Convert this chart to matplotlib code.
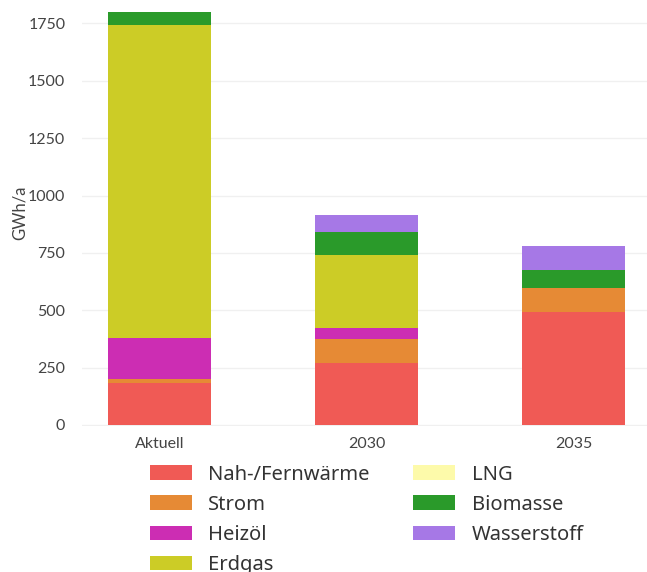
import matplotlib
matplotlib.use("Agg")
import matplotlib.pyplot as plt
from matplotlib.patches import Patch
import numpy as np

categories = ["Aktuell", "2030", "2035"]
series_names = ["Nah-/Fernwärme", "Strom", "Heizöl", "Erdgas", "LNG", "Biomasse", "Wasserstoff"]
nah_fernwaerme = [182, 271, 491]
strom = [17, 104, 107]
heizoel = [181, 49, 0]
erdgas = [1363, 317, 0]
lng = [0, 0, 0]
biomasse = [55, 101, 77]
wasserstoff = [0, 73, 106]
colors = ["#F05A55", "#E68A35", "#CC2DB3", "#CCCC26", "#FDFAAA", "#2A9A2A", "#A678E6"]
y_ticks = [0, 250, 500, 750, 1000, 1250, 1500, 1750]

series = [nah_fernwaerme, strom, heizoel, erdgas, lng, biomasse, wasserstoff]

plt.rcParams["font.family"] = ["Lato", "DejaVu Sans"]

fig = plt.figure(figsize=(6.47, 5.72), dpi=100)
ax = fig.add_axes([82 / 647, 146 / 572, 565 / 647, 426 / 572])

x = np.arange(len(categories))
bottom = np.zeros(len(categories))
for name, vals, col in zip(series_names, series, colors):
    vals = np.array(vals, dtype=float)
    ax.bar(x, vals, width=0.5, bottom=bottom, color=col, edgecolor="none", zorder=2)
    bottom += vals

ax.set_xlim(-0.374, 2.355)
ax.set_ylim(-4.4, 1852)
ax.set_xticks(x)
ax.set_xticklabels(categories)
ax.set_yticks(y_ticks)
ax.tick_params(axis="both", length=0, labelsize=11.5, colors="#444444")
ax.tick_params(axis="y", pad=12)
ax.tick_params(axis="x", pad=8)
ax.grid(axis="y", color="#f0f0f0", linewidth=1, zorder=0)
for s in ax.spines.values():
    s.set_visible(False)
ax.set_ylabel("GWh/a", fontsize=12, color="#444444", labelpad=0)

handles = [Patch(facecolor=c, edgecolor="none", label=n) for n, c in zip(series_names, colors)]
fig.legend(handles=handles, ncol=2, loc="upper left", bbox_to_anchor=(150 / 647, 1 - 464.5 / 572),
           frameon=False, borderpad=0, borderaxespad=0,
           prop={"family": ["Noto Sans", "DejaVu Sans"], "size": 14.5},
           handlelength=2.1, handleheight=0.7,
           handletextpad=0.8, labelspacing=0.5, columnspacing=2.15, labelcolor="#333333")

fig.savefig("out.png", dpi=100)
